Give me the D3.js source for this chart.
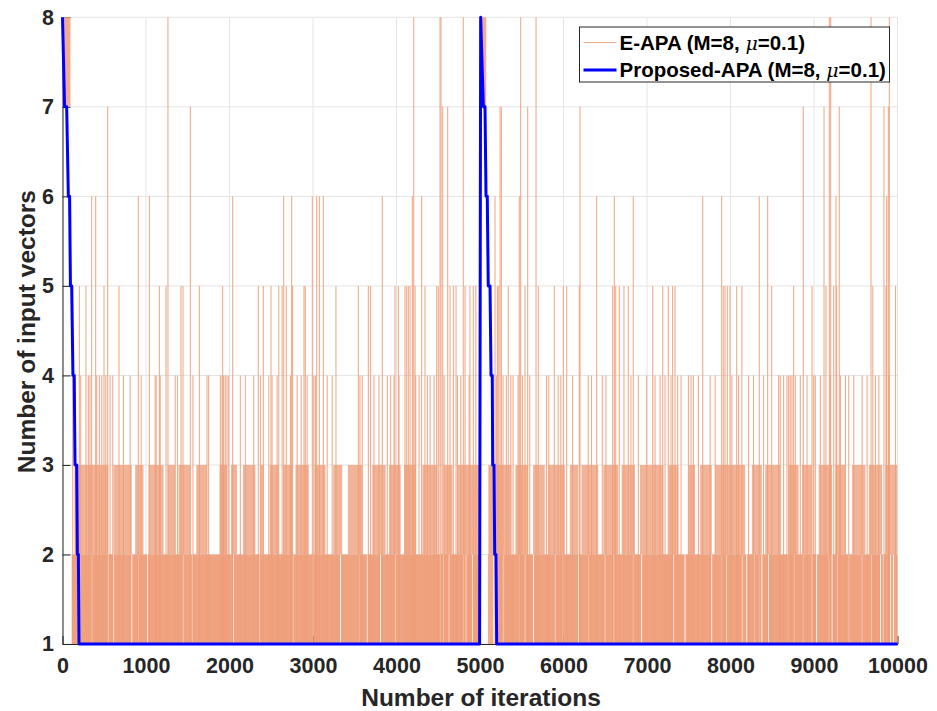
<!DOCTYPE html>
<html>
<head>
<meta charset="utf-8">
<script src="https://cdn.jsdelivr.net/npm/d3@7"></script>
<style>
  body { margin: 0; background: #fff; }
  text { font-family: "Liberation Sans", Arial, Helvetica, sans-serif; }
</style>
</head>
<body>
<svg id="chart" width="937" height="711"></svg>
<script>
// ---------------- data ----------------
const xTickValues = [0, 1000, 2000, 3000, 4000, 5000, 6000, 7000, 8000, 9000, 10000];
const yTickValues = [1, 2, 3, 4, 5, 6, 7, 8];

const seriesNames = ["E-APA (M=8, ", "Proposed-APA (M=8, "];
const muLabel = "\u03bc";
const muValue = "=0.1)";

// Proposed-APA: number of input vectors vs iteration
const proposedIter  = [0, 25, 50, 70, 85, 95, 110, 125, 140, 150, 170, 178, 190, 198, 4995, 5008, 5040, 5060, 5072, 5087, 5099, 5120, 5132, 5147, 5152, 5168, 5176, 5191, 5200, 10000];
const proposedValue = [8, 7, 7, 6, 6, 5, 5, 4, 4, 3, 3, 2, 2, 1, 1, 8, 7, 7, 6, 6, 5, 5, 4, 4, 3, 3, 2, 2, 1, 1];

// E-APA: dense oscillation blocks [start, end, low, high]
const eapaDenseBlocks = [[0, 95, 7, 8], [5010, 5075, 7, 8], [5095, 5160, 1, 2], [5100, 5160, 2, 3]];

// E-APA: spans where it oscillates between 1 and 2 (the solid band) ...
const eapaBand2Spans = [[110, 4995], [5185, 10000]];
// ... and the short stretches inside them where it stays at 1 (white slits)
const eapaBand2Gaps = [210, 350, 545, 610, 830, 910, 1020, 1445, 1555, 2048, 2365, 2760, 3000, 3330, 3550, 3650, 3810, 3985, 4525, 4560, 4630, 4800, 4830, 4910,
  5215, 5278, 5470, 5540, 5640, 5897, 5997, 6180, 6300, 6500, 6605, 6836, 6936, 7320, 7456, 7775, 7894, 7956, 8140, 8195, 8280, 8345, 8376, 8456, 8692, 8760, 8872, 8976, 9032, 9183, 9216, 9276, 9416, 9576, 9690, 9796, 9830, 9870, 9918, 9950, 9976];

// E-APA: stretches where it keeps reaching 3
const eapaBand3Runs = [[150, 550], [610, 830], [870, 970], [1030, 1210], [1258, 1350], [1390, 1530], [1602, 1730], [1882, 1970], [2018, 2090], [2162, 2310], [2370, 2410], [2482, 2590], [2642, 2750], [2790, 2950], [3018, 3150], [3242, 3350], [3418, 3590], [3710, 3870], [3910, 4050], [4090, 4230], [4310, 4490], [4562, 4670], [4730, 4995],
  [5196, 5376], [5424, 5576], [5636, 5776], [5816, 6016], [6076, 6176], [6216, 6416], [6476, 6656], [6696, 6856], [6916, 7196], [7256, 7376], [7496, 7576], [7636, 7776], [7816, 8176], [8256, 8376], [8416, 8596], [8696, 8816], [8856, 8976], [9056, 9216], [9256, 9376], [9456, 9616], [9656, 9816], [9856, 9996]];

// E-APA: isolated spikes, by peak value
const eapaSpikes4 = [150, 218, 310, 330, 410, 442, 470, 518, 570, 602, 730, 810, 942, 1110, 1122, 1170, 1350, 1378, 1562, 1730, 1750, 1890, 1910, 1930, 1950, 1970, 1990, 2130, 2190, 2290, 2370, 2470, 2510, 2570, 2730, 2810, 2858, 2930, 3010, 3030, 3170, 3230, 3562, 3590, 3730, 3790, 3890, 3930, 3970, 4030, 4230, 4270, 4370, 4402, 4450, 4570, 4730, 4770, 4870,
  5196, 5276, 5316, 5368, 5396, 5456, 5508, 5596, 5796, 5824, 5936, 5968, 6108, 6296, 6336, 6464, 6508, 6808, 6896, 6996, 7096, 7156, 7216, 7288, 7368, 7408, 7496, 7528, 7556, 7616, 7756, 7816, 8016, 8096, 8216, 8276, 8396, 8576, 8596, 8636, 8676, 8696, 8716, 8736, 8776, 8836, 8916, 8996, 9016, 9076, 9196, 9316, 9376, 9416, 9476, 9576, 9636, 9736, 9776, 9896];
const eapaSpikes5 = [122, 202, 281, 497, 677, 1160, 1240, 1419, 1443, 1639, 1918, 2345, 2405, 2497, 2590, 2630, 2680, 2756, 2892, 2908, 3275, 3543, 3663, 3690, 3982, 4022, 4102, 4122, 4142, 4162, 4222, 4341, 4481, 4501, 4641, 4681, 4713, 4821, 4880, 4920, 4950,
  5208, 5224, 5339, 5539, 5698, 5890, 5998, 6038, 6189, 6589, 6625, 6668, 6724, 6776, 7068, 7188, 7255, 7307, 7336, 7914, 7934, 7962, 7994, 8074, 8136, 8493, 8756, 8976, 9143, 9236, 9271, 9704, 9862, 9976];
const eapaSpikes6 = [349, 397, 908, 1040, 2038, 2649, 2744, 2992, 3044, 3076, 3124, 3830, 4190, 4301,
  5180, 5471, 6397, 6609, 6836, 7667, 7894, 8345, 8445, 9263, 9870];
const eapaSpikes7 = [541, 1531, 4553, 4613, 5240, 5256, 5571, 6198, 8872, 9120, 9303, 9838, 9890];
const eapaSpikes8 = [1263, 4206, 4521, 4533, 4800, 5487, 5671, 9184, 9200, 9683, 9902];

// ---------------- drawing ----------------
const svg = d3.select("#chart");
const plot = { left: 62.5, right: 897.5, top: 17.3, bottom: 644 };

const x = d3.scaleLinear().domain([0, 10000]).range([plot.left, plot.right]);
const y = d3.scaleLinear().domain([1, 8]).range([plot.bottom, plot.top]);

const axisColor = "#262626";
const gridColor = "#e4e4e4";
const orange = "#efa381";
const orangeLine = "#ee9d78";
const blue = "#0000ff";

// grid
const grid = svg.append("g");
grid.selectAll("line.gx").data(xTickValues).join("line")
  .attr("x1", d => x(d)).attr("x2", d => x(d))
  .attr("y1", plot.top).attr("y2", plot.bottom)
  .attr("stroke", gridColor).attr("stroke-width", 1);
grid.selectAll("line.gy").data(yTickValues).join("line")
  .attr("x1", plot.left).attr("x2", plot.right)
  .attr("y1", d => y(d)).attr("y2", d => y(d))
  .attr("stroke", gridColor).attr("stroke-width", 1);

// axes
const fontStyle = sel => sel.selectAll("text")
  .attr("font-size", 21.5).attr("font-weight", "bold").attr("fill", axisColor)
  .attr("font-family", "'Liberation Sans', Arial, sans-serif");

const xAxis = svg.append("g").attr("transform", `translate(0,${plot.bottom})`)
  .call(d3.axisBottom(x).tickValues(xTickValues).tickFormat(d3.format("d"))
    .tickSizeInner(-8).tickSizeOuter(0).tickPadding(14));
xAxis.call(fontStyle);
xAxis.select(".domain").attr("stroke", axisColor);
xAxis.selectAll(".tick line").attr("stroke", axisColor);

const yAxis = svg.append("g").attr("transform", `translate(${plot.left},0)`)
  .call(d3.axisLeft(y).tickValues(yTickValues).tickFormat(d3.format("d"))
    .tickSizeInner(-8).tickSizeOuter(0).tickPadding(8.5));
yAxis.call(fontStyle);
yAxis.select(".domain").attr("stroke", axisColor);
yAxis.selectAll(".tick line").attr("stroke", axisColor);

// E-APA series
const eapa = svg.append("g");
const area = d3.area().x(d => x(d[0])).y0(d => y(d[1])).y1(d => y(d[2]));

// band 1..2 runs (split at slits)
const halfGap = 5;
const band2Runs = [];
eapaBand2Spans.forEach(([s, e]) => {
  const cuts = eapaBand2Gaps.filter(g => g > s && g < e);
  let start = s;
  cuts.forEach(g => { band2Runs.push([start, g - halfGap]); start = g + halfGap; });
  band2Runs.push([start, e]);
});
eapa.selectAll("path.b2").data(band2Runs).join("path")
  .attr("d", r => area([[r[0], 1, 2], [r[1], 1, 2]]))
  .attr("fill", orange);

eapa.selectAll("path.b3").data(eapaBand3Runs).join("path")
  .attr("d", r => area([[r[0], 2, 3], [r[1], 2, 3]]))
  .attr("fill", orange).attr("fill-opacity", 0.82);

eapa.selectAll("path.blk").data(eapaDenseBlocks).join("path")
  .attr("d", b => area([[b[0], b[2], b[3]], [b[1], b[2], b[3]]]))
  .attr("fill", orange).attr("fill-opacity", 0.9);

const spikeSets = [[4, eapaSpikes4], [5, eapaSpikes5], [6, eapaSpikes6], [7, eapaSpikes7], [8, eapaSpikes8]];
const spikeLine = d3.line().x(d => x(d[0])).y(d => y(d[1]));
spikeSets.forEach(([lvl, arr]) => {
  eapa.selectAll(null).data(arr).join("path")
    .attr("d", it => spikeLine([[it, 1], [it, lvl]]))
    .attr("stroke", orangeLine).attr("stroke-width", 1.1).attr("stroke-opacity", 0.85)
    .attr("fill", "none");
});

// Proposed-APA
const propData = proposedIter.map((it, i) => [it, proposedValue[i]]);
svg.append("path")
  .attr("d", d3.line().x(d => x(d[0])).y(d => y(d[1]))(propData))
  .attr("fill", "none").attr("stroke", blue).attr("stroke-width", 3)
  .attr("stroke-linejoin", "round");

// axis labels
svg.append("text")
  .attr("x", (plot.left + plot.right) / 2 + 1).attr("y", 706)
  .attr("text-anchor", "middle").attr("font-size", 24.5).attr("font-weight", "bold")
  .attr("fill", axisColor).text("Number of iterations");
svg.append("text")
  .attr("transform", `translate(35,${(plot.top + plot.bottom) / 2 + 1}) rotate(-90)`)
  .attr("text-anchor", "middle").attr("font-size", 24.5).attr("font-weight", "bold")
  .attr("fill", axisColor).text("Number of input vectors");

// legend
const lg = svg.append("g").attr("transform", "translate(579.5,27)");
lg.append("rect").attr("width", 310).attr("height", 55)
  .attr("fill", "#fff").attr("stroke", axisColor).attr("stroke-width", 1);
const legendItems = [
  { name: seriesNames[0], color: orangeLine, width: 1, opacity: 0.85 },
  { name: seriesNames[1], color: blue, width: 3, opacity: 1 }
];
legendItems.forEach((it, i) => {
  const cy = 15.5 + i * 27.5;
  lg.append("line").attr("x1", 4).attr("x2", 37).attr("y1", cy).attr("y2", cy)
    .attr("stroke", it.color).attr("stroke-width", it.width).attr("stroke-opacity", it.opacity);
  const t = lg.append("text").attr("x", 40).attr("y", cy + 7)
    .attr("font-size", 20.5).attr("font-weight", "bold").attr("fill", "#000");
  t.append("tspan").text(it.name);
  t.append("tspan").attr("font-style", "italic").attr("font-weight", "normal")
    .attr("font-family", "'DejaVu Serif', serif").attr("font-size", 19).text(muLabel);
  t.append("tspan").text(muValue);
});
</script>
</body>
</html>
